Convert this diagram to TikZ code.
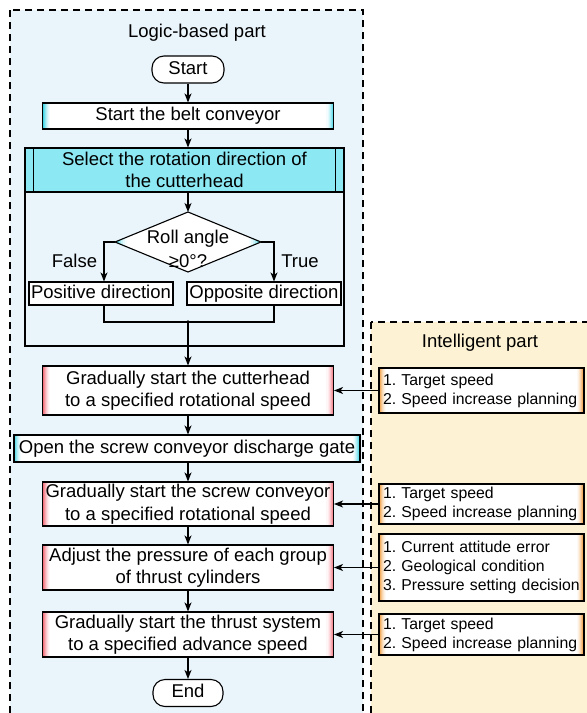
\documentclass[tikz,border=0pt]{standalone}
\usepackage{fontspec}
\setmainfont{Liberation Sans}
\usetikzlibrary{arrows.meta}

\definecolor{logicbg}{HTML}{EAF4FB}
\definecolor{intelbg}{HTML}{FDF2D3}
\definecolor{edgecyan}{HTML}{3FD5E6}
\definecolor{edgered}{HTML}{F2707C}
\definecolor{edgeorange}{HTML}{EF9A3A}
\definecolor{headcyan}{HTML}{8CE8F2}

\tikzset{
  every node/.style={font=\fontsize{18.5}{22.5}\selectfont, inner sep=0pt},
  lw/.style={line width=1.1pt},
  flow/.style={lw, -{Stealth[length=9pt,width=7pt,inset=2.5pt]}},
  region/.style={lw, dash pattern=on 7pt off 5pt},
  oneline/.style={text height=13.5pt, text depth=4pt},
  % white box whose left and right ends fade in from a colour, built from thin strips
  edged/.style={draw, lw, fill=white, align=center, path picture={
    \foreach \i/\p in {0/100,1/78,2/58,3/40,4/26,5/14,6/6} {
      \fill[#1!\p!white] ([xshift=\i pt]path picture bounding box.south west)
        rectangle ([xshift=\i pt+1.1pt]path picture bounding box.north west);
      \fill[#1!\p!white] ([xshift=-\i pt]path picture bounding box.south east)
        rectangle ([xshift=-\i pt-1.1pt]path picture bounding box.north east);
    }}},
  term/.style={draw, lw, fill=white, rounded corners=12pt, minimum width=72pt, minimum height=27pt, oneline},
  plainbox/.style={draw, lw, fill=white, minimum height=23pt, oneline},
  mainbox/.style={edged=edgered, minimum width=291pt},
  infobox/.style={edged=edgeorange, font=\fontsize{15.8}{19}\selectfont\frenchspacing, align=left,
    text width=197pt, inner xsep=4pt, minimum width=205pt},
}

\begin{document}
\begin{tikzpicture}[x=1pt, y=-1pt]
\useasboundingbox (0,0) rectangle (587,713);
\clip (0,0) rectangle (587,713);

% regions
\fill[white] (0,0) rectangle (587,713);
\filldraw[region, fill=logicbg] (10,10) rectangle (363,730);
\filldraw[region, fill=intelbg] (371,322) rectangle (600,730);
\node (ltitle) at (197,33) {Logic-based part};
\node (ititle) at (480,343) {Intelligent part};

% logic-based flow
\node[term] (start) at (188,69.5) {Start};
\node[edged=edgecyan, oneline, minimum width=291pt, minimum height=26pt] (belt) at (188,116) {Start the belt conveyor};

\node[draw, lw, minimum width=319pt, minimum height=198pt] (selframe) at (184.5,247) {};
\node[draw, lw, fill=headcyan, minimum width=319pt, minimum height=44pt, align=center] (selhead) at (184.5,170)
  {Select the rotation direction of\\the cutterhead};
\draw[lw] ([xshift=9pt]selhead.north west) -- ([xshift=9pt]selhead.south west);
\draw[lw] ([xshift=-9pt]selhead.north east) -- ([xshift=-9pt]selhead.south east);

% decision
\coordinate (dtop) at (188,212);
\coordinate (dright) at (261,242);
\coordinate (dbot) at (188,272);
\coordinate (dleft) at (115,242);
\path[draw, lw, fill=white, path picture={
    \foreach \i/\p in {0/100,1/72,2/48,3/28,4/14,5/5} {
      \fill[edgecyan!\p!white] ([xshift=2*\i pt]path picture bounding box.south west)
        rectangle ([xshift=2*\i pt+2.1pt]path picture bounding box.north west);
      \fill[edgecyan!\p!white] ([xshift=-2*\i pt]path picture bounding box.south east)
        rectangle ([xshift=-2*\i pt-2.1pt]path picture bounding box.north east);
    }}]
  (dtop) -- (dright) -- (dbot) -- (dleft) -- cycle;
\node[align=center] (dtext) at (188,249) {Roll angle\\[1pt]≥0°?};

\node[plainbox, minimum width=144pt] (pos) at (101,293.5) {Positive direction};
\node[plainbox, minimum width=154pt] (opp) at (264,293.5) {Opposite direction};
\coordinate (lx) at (104,242);
\coordinate (rx) at (274,242);
\coordinate (join) at (188,322);
\node[oneline] (lfalse) at (74.5,263) {False};
\node[oneline] (ltrue) at (300,263) {True};

\node[mainbox, minimum height=49pt] (cut) at (188,390.5) {Gradually start the cutterhead\\to a specified rotational speed};
\node[edged=edgecyan, oneline, minimum width=346pt, minimum height=27pt] (open) at (187,448.5) {Open the screw conveyor discharge gate};
\node[mainbox, minimum height=44pt] (screw) at (188,504) {Gradually start the screw conveyor\\to a specified rotational speed};
\node[mainbox, minimum height=45pt] (adjust) at (188,567.5) {Adjust the pressure of each group\\of thrust cylinders};
\node[mainbox, minimum height=45pt] (thrust) at (188,634.5) {Gradually start the thrust system\\to a specified advance speed};
\node[term, minimum width=70pt] (end) at (188,693) {End};

\draw[flow] (start) -- (belt);
\draw[flow] (belt.south) -- (belt.south |- selhead.north);
\draw[flow] (belt.south |- selhead.south) -- (dtop);
\draw[flow] (dleft) -- (lx) -- (lx |- pos.north);
\draw[flow] (dright) -- (rx) -- (rx |- opp.north);
\draw[lw] (lx |- pos.south) -- (lx |- join) -- (rx |- join) -- (rx |- opp.south);
\fill (join) circle (1.8pt);
\draw[flow] (join) -- (cut);
\draw[flow] (cut) -- (cut.south |- open.north);
\draw[flow] (cut.south |- open.south) -- (screw);
\draw[flow] (screw) -- (adjust);
\draw[flow] (adjust) -- (thrust);
\draw[flow] (thrust) -- (end);

% intelligent part
\node[infobox, minimum height=45pt] (ib1) at (481.5,390.5) {1. Target speed\\2. Speed increase planning};
\node[infobox, minimum height=40pt] (ib2) at (481.5,504) {1. Target speed\\2. Speed increase planning};
\node[infobox, minimum height=67pt] (ib3) at (481.5,567.5) {1. Current attitude error\\2. Geological condition\\3. Pressure setting decision};
\node[infobox, minimum height=41pt] (ib4) at (481.5,634.5) {1. Target speed\\2. Speed increase planning};

\draw[flow] (ib1.west) -- (ib1.west -| cut.east);
\draw[flow] (ib2.west) -- (ib2.west -| screw.east);
\draw[flow] (ib3.west) -- (ib3.west -| adjust.east);
\draw[flow] (ib4.west) -- (ib4.west -| thrust.east);
\end{tikzpicture}
\end{document}
